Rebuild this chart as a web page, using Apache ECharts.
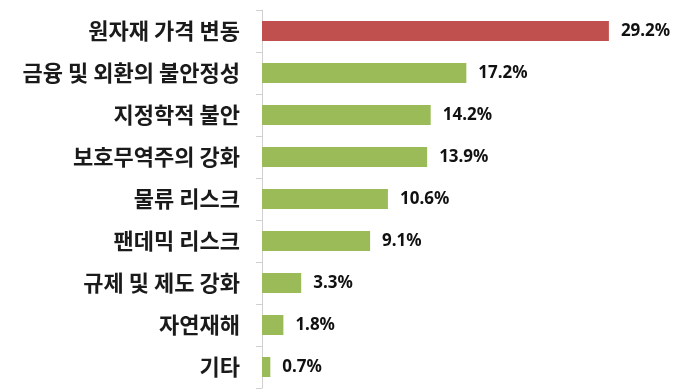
<!DOCTYPE html>
<html>
<head>
<meta charset="utf-8">
<script src="https://cdn.jsdelivr.net/npm/echarts@6/dist/echarts.min.js"></script>
<style>html,body{margin:0;padding:0;background:#fff;}#c{width:700px;height:390px;}</style>
</head>
<body>
<div id="c"></div>
<script>
const categories = ['원자재 가격 변동','금융 및 외환의 불안정성','지정학적 불안','보호무역주의 강화','물류 리스크','팬데믹 리스크','규제 및 제도 강화','자연재해','기타'];
const values = [29.2, 17.2, 14.2, 13.9, 10.6, 9.1, 3.3, 1.8, 0.7];
const highlightColor = '#C0504D';
const baseColor = '#9BBB59';

const chart = echarts.init(document.getElementById('c'));
chart.setOption({
  animation: false,
  grid: {left: 262, top: 10, bottom: 2, width: 356.4, containLabel: false},
  xAxis: {type: 'value', min: 0, max: 30, show: false},
  yAxis: {
    type: 'category', data: categories, inverse: true,
    axisLine: {show: true, lineStyle: {color: '#D0D0D0', width: 1}},
    axisTick: {show: true, length: 6, lineStyle: {color: '#D0D0D0'}},
    axisLabel: {margin: 22, fontSize: 22, fontWeight: 'bold', color: '#1a1a1a', fontFamily: 'Noto Sans CJK KR'}
  },
  series: [{
    type: 'bar', barWidth: 20,
    data: values.map((v, i) => ({value: v, itemStyle: {color: i === 0 ? highlightColor : baseColor}})),
    label: {show: true, position: 'right', distance: 12, formatter: p => p.value.toFixed(1) + '%',
      fontSize: 17, fontWeight: 'bold', color: '#111', fontFamily: 'Noto Sans'}
  }]
});
</script>
</body>
</html>
